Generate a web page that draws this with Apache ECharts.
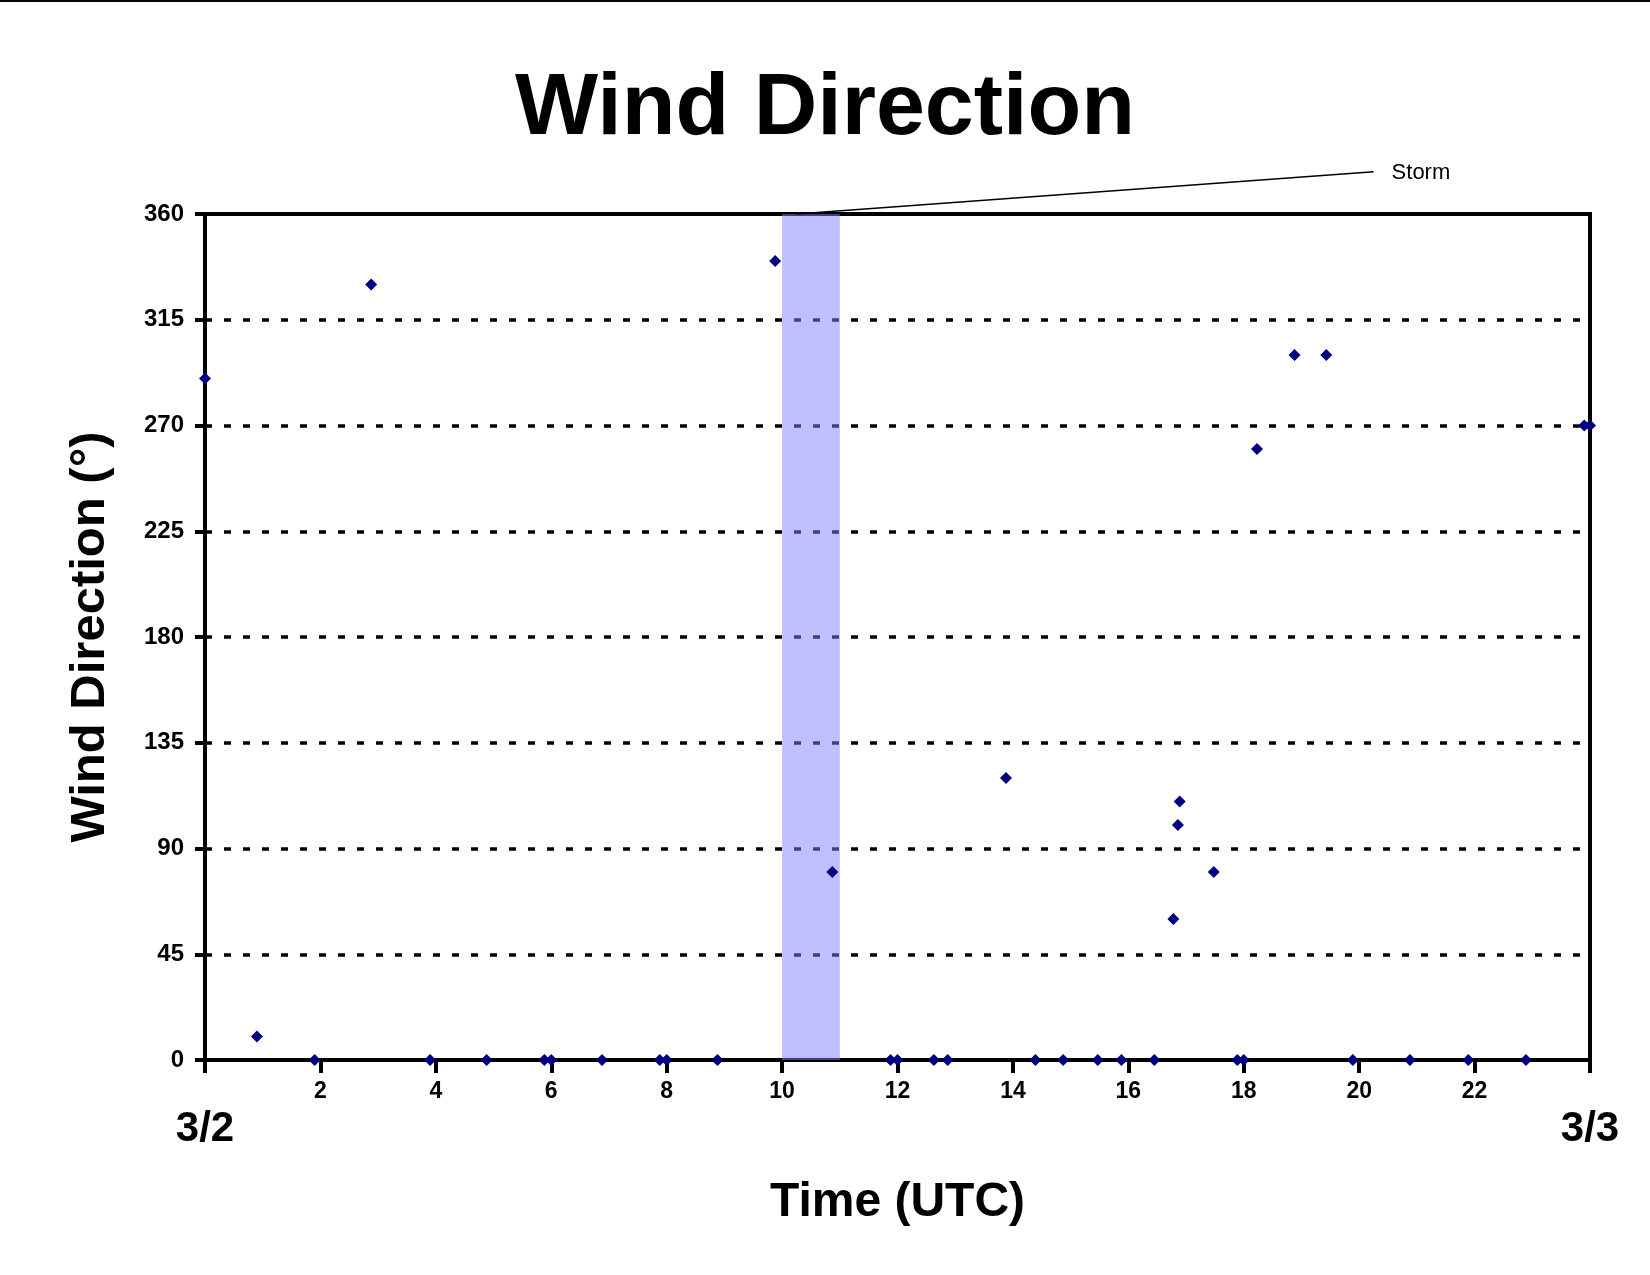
<!DOCTYPE html>
<html><head><meta charset="utf-8">
<script src="https://cdn.jsdelivr.net/npm/echarts@6/dist/echarts.min.js"></script>
<style>
html,body{margin:0;padding:0;background:#fff}
#c{width:1650px;height:1275px}
#topline{position:absolute;top:0;left:0;width:1650px;height:2px;background:#000}
</style>
</head><body>
<div id="c"></div><div id="topline"></div>
<script>
const FONT = '"Liberation Sans", Arial, Helvetica, sans-serif';

// Time of observation (hours UTC from 00Z 3/2)
const hours = [0, 0.9, 1.9, 2.88, 3.9, 4.88, 5.88, 6.0, 6.88, 7.88, 8.0, 8.88,
  9.88, 10.87, 11.88, 12.0, 12.63, 12.87, 13.88, 14.39, 14.87, 15.47, 15.88, 16.45,
  16.78, 16.86, 16.89, 17.48, 17.89, 18.0, 18.23, 18.88, 19.43, 19.89, 20.88, 21.89,
  22.89, 23.9, 24.0];
// Wind direction (degrees)
const directions = [290, 10, 0, 330, 0, 0, 0, 0, 0, 0, 0, 0,
  340, 80, 0, 0, 0, 0, 120, 0, 0, 0, 0, 0,
  60, 100, 110, 80, 0, 0, 260, 300, 300, 0, 0, 0,
  0, 270, 270];

const dateTickValues = [0, 24];
const dateLabels = ['3/2', '3/3'];
const stormBand = [10, 11];
const stormLabel = 'Storm';
const stormPointer = [10.25, 360];
const stormLabelAnchor = [20.25, 378];

const points = hours.map((h, i) => [h, directions[i]]);

const chart = echarts.init(document.getElementById('c'));
chart.setOption({
  animation: false,
  backgroundColor: '#fff',
  title: {
    text: 'Wind Direction',
    left: 'center',
    top: 61,
    textStyle: { fontFamily: FONT, fontSize: 88, fontWeight: 'bold', color: '#000' }
  },
  grid: {
    left: 205, right: 60, top: 214, bottom: 215,
    show: true, borderColor: '#000', borderWidth: 4, backgroundColor: 'transparent'
  },
  xAxis: [{
    type: 'value', min: 0, max: 24, interval: 2,
    name: 'Time (UTC)', nameLocation: 'middle', nameGap: 119,
    nameTextStyle: { fontFamily: FONT, fontSize: 48, fontWeight: 'bold', color: '#000' },
    axisLine: { show: true, lineStyle: { color: '#000', width: 4 } },
    axisTick: { show: true, length: 13, lineStyle: { color: '#000', width: 4 } },
    axisLabel: {
      margin: 20, fontFamily: FONT, fontSize: 23, fontWeight: 'bold', color: '#000',
      showMinLabel: true, showMaxLabel: true,
      formatter: v => (v === 0 || v === 24) ? '' : String(v)
    },
    splitLine: { show: false }
  }, {
    type: 'value', min: 0, max: 24, position: 'bottom',
    axisLine: { show: false }, axisTick: { show: false }, splitLine: { show: false },
    axisLabel: {
      customValues: dateTickValues,
      margin: 48, fontFamily: FONT, fontSize: 42, fontWeight: 'bold', color: '#000',
      showMinLabel: true, showMaxLabel: true,
      formatter: v => dateLabels[dateTickValues.indexOf(v)] || ''
    }
  }],
  yAxis: {
    type: 'value', min: 0, max: 360, interval: 45,
    name: 'Wind Direction (°)', nameLocation: 'middle', nameGap: 90,
    nameTextStyle: { fontFamily: FONT, fontSize: 49, fontWeight: 'bold', color: '#000' },
    axisLine: { show: true, lineStyle: { color: '#000', width: 4 } },
    axisTick: { show: true, length: 10, lineStyle: { color: '#000', width: 4 } },
    axisLabel: { margin: 21, fontFamily: FONT, fontSize: 24, fontWeight: 'bold', color: '#000' },
    splitLine: { show: true, lineStyle: { color: '#000', width: 3.5, type: [7, 12] } }
  },
  series: [{
    type: 'line', data: [], z: 1, silent: true,
    markArea: {
      silent: true,
      itemStyle: { color: 'rgba(128,128,255,0.5)' },
      data: [[{ xAxis: stormBand[0] }, { xAxis: stormBand[1] }]]
    }
  }, {
    type: 'scatter', z: 3, clip: false,
    symbol: 'diamond', symbolSize: 12,
    itemStyle: { color: '#000080', opacity: 1 },
    data: points
  }]
});

const p0 = chart.convertToPixel({ xAxisIndex: 0, yAxisIndex: 0 }, stormPointer);
const p1 = chart.convertToPixel({ xAxisIndex: 0, yAxisIndex: 0 }, stormLabelAnchor);
chart.setOption({
  graphic: [{
    type: 'line', z: 10,
    shape: { x1: p0[0], y1: p0[1], x2: p1[0], y2: p1[1] },
    style: { stroke: '#000', lineWidth: 1.5 }
  }, {
    type: 'text', z: 10, x: p1[0] + 18, y: p1[1] + 1,
    style: { text: stormLabel, font: '22px ' + FONT, fill: '#000', verticalAlign: 'middle', align: 'left' }
  }]
});
</script>
</body></html>
